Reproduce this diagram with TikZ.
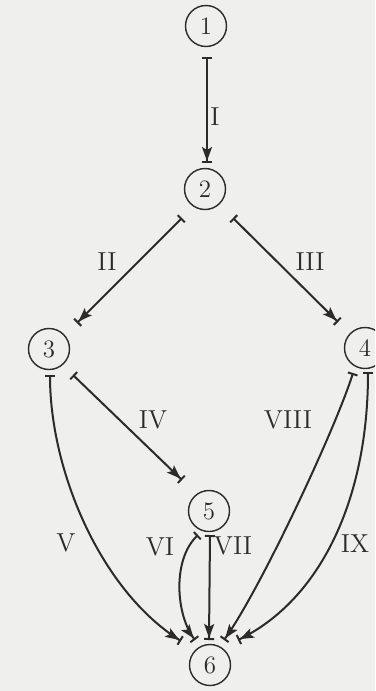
\documentclass[tikz,border=0pt]{standalone}
\usetikzlibrary{arrows.meta,calc}
\definecolor{bgc}{RGB}{239,239,237}
\definecolor{ink}{RGB}{45,42,42}
\begin{document}
\begin{tikzpicture}[x=0.5pt,y=-0.5pt,
  state/.style={circle,draw=ink,line width=0.7pt,minimum size=20.5pt,inner sep=0pt,outer sep=0pt,font=\fontsize{12.5}{14}\selectfont,text=ink},
  lab/.style={font=\fontsize{13}{15}\selectfont,text=ink,inner sep=0pt},
  conn/.style={draw=ink,line width=1pt,arrows={Bar[width=5pt]}-{Stealth[length=7pt,width=5pt,inset=1.5pt]Bar[width=5pt]}}
]
\fill[bgc] (0,0) rectangle (375,691);
\useasboundingbox (0,0) rectangle (375,691);
\clip (0,0) rectangle (375,691);

\node[state] (n1) at (206,26) {1};
\node[state] (n2) at (205,189) {2};
\node[state] (n3) at (49,349) {3};
\node[state] (n4) at (365,348) {4};
\node[state] (n5) at (209,511) {5};
\node[state] (n6) at (210,665) {6};

\draw[conn] ($(n1)+(1,31)$) -- ($(n2)+(2,-26)$);
\draw[conn] ($(n2)+(-23,29)$) -- ($(n3)+(28,-26)$);
\draw[conn] ($(n2)+(28,29)$) -- ($(n4)+(-27,-26)$);
\draw[conn] ($(n3)+(24,26)$) -- ($(n5)+(-27,-31)$);
\draw[conn] ($(n3)+(1,26)$) .. controls ($(n3)+(1,121)$) and ($(n6)+(-110,-75)$) .. ($(n6)+(-29,-24)$);
\draw[conn] ($(n5)+(-11,24)$) .. controls ($(n5)+(-37,49)$) and ($(n6)+(-34,-50)$) .. ($(n6)+(-15,-25)$);
\draw[conn] ($(n5)+(1,24)$) -- ($(n6)+(-1,-25)$);
\draw[conn] ($(n4)+(-12,25)$) .. controls ($(n4)+(-30,82)$) and ($(n6)+(50,-75)$) .. ($(n6)+(14,-25)$);
\draw[conn] ($(n4)+(3,24)$) .. controls ($(n4)+(3,152)$) and ($(n6)+(110,-65)$) .. ($(n6)+(28,-25)$);

\node[lab] (lI) at (215,117) {I};
\node[lab] (lII) at (107,262) {II};
\node[lab] (lIII) at (310,262) {III};
\node[lab] (lIV) at (153,420) {IV};
\node[lab] (lV) at (66,543) {V};
\node[lab] (lVI) at (160,547) {VI};
\node[lab] (lVII) at (233,546) {VII};
\node[lab] (lVIII) at (288,420) {VIII};
\node[lab] (lIX) at (355,544) {IX};
\end{tikzpicture}
\end{document}
